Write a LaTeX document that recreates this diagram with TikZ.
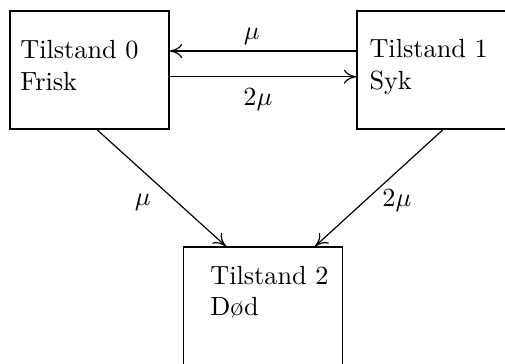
\documentclass[tikz,border=0pt]{standalone}
\usetikzlibrary{calc,arrows.meta}
\begin{document}
\begin{tikzpicture}[x=0.381pt,y=-0.381pt,
  statebox/.style={draw,line width=0.45pt,minimum width=60.6pt,minimum height=45pt,inner sep=0pt},
  statetext/.style={anchor=base west,align=left,inner sep=0pt},
  conn/.style={-{Computer Modern Rightarrow[length=4.8pt,width=5.4pt]},line width=0.45pt},
  lab/.style={inner sep=0pt}]
\useasboundingbox (0,0) rectangle (505,363);
\clip (0,0) rectangle (505,363);
\node[statebox] (s0) at (89.5,70) {};
\node[statebox] (s1) at (436.5,70) {};
\node[statebox] (s2) at (263,306) {};
\node[statetext] (t0) at (19.8,90) {Tilstand 0\\Frisk};
\node[statetext] (t1) at (369,89.3) {Tilstand 1\\Syk};
\node[statetext] (t2) at (209.8,315.5) {Tilstand 2\\Død};
\draw[conn] ([yshift=7.24pt]s1.west) -- node[pos=0.56,above,inner sep=2.2pt] (l10) {$\mu$} ([yshift=7.24pt]s0.east);
\draw[conn] ([yshift=-2.55pt]s0.east) -- node[pos=0.473,below,inner sep=4.4pt] (l01) {$2\mu$} ([yshift=-2.55pt]s1.west);
\draw[conn] ($(s0.south)+(7.5,0)$) -- node[pos=0.627,xshift=-13.4pt,lab] (l02) {$\mu$} ($(s2.north)+(-37,0)$);
\draw[conn] ($(s1.south)+(6.5,0)$) -- node[pos=0.627,xshift=13pt,yshift=1pt,lab] (l12) {$2\mu$} ($(s2.north)+(52,0)$);
\end{tikzpicture}
\end{document}
